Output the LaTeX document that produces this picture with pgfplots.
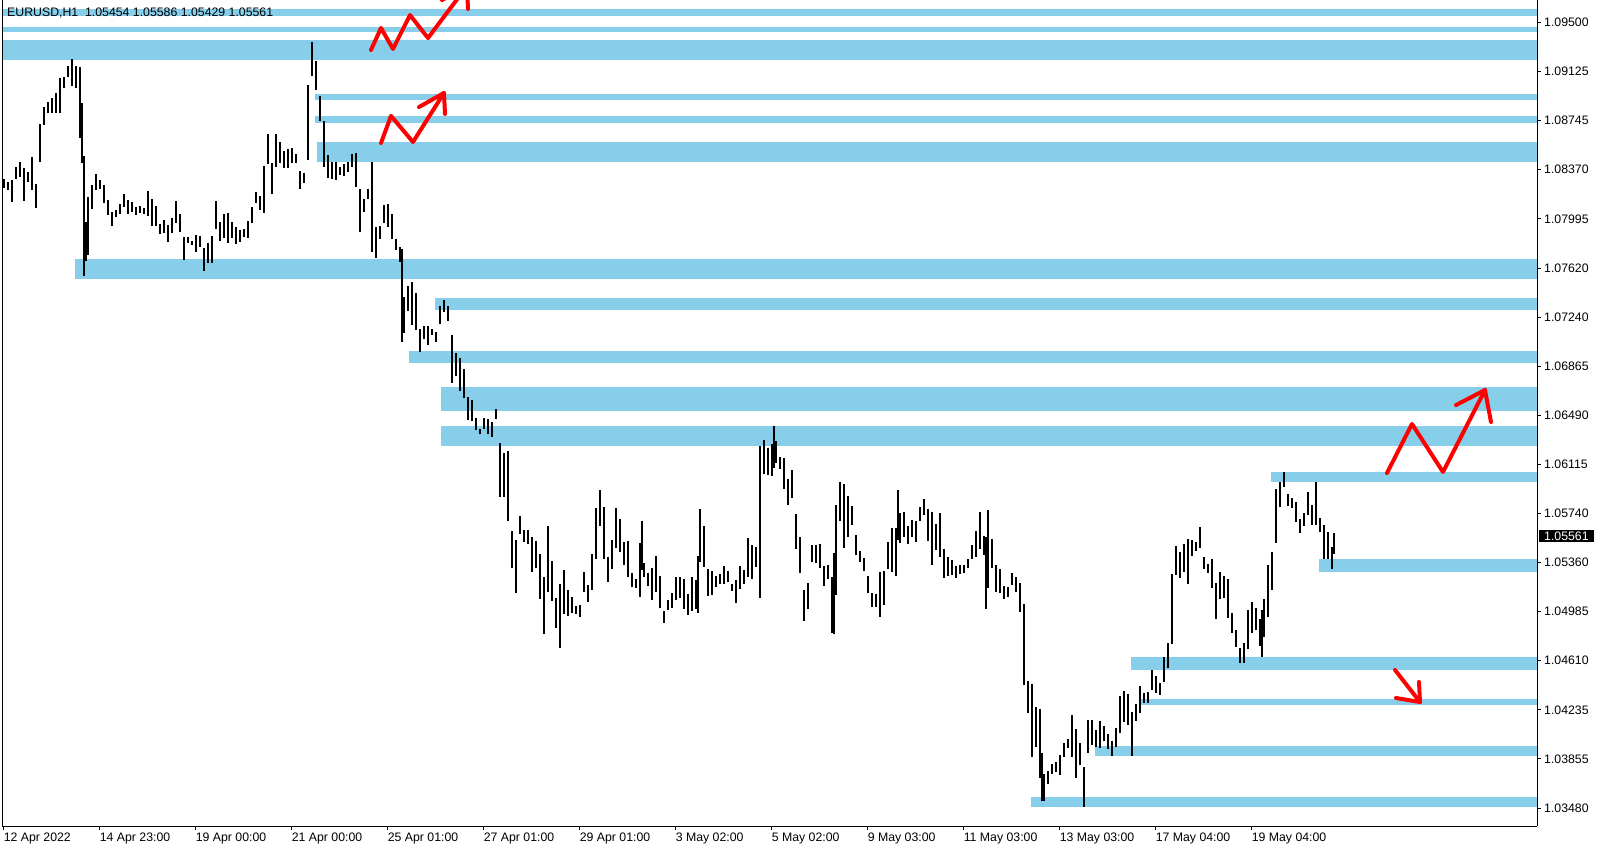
\documentclass[border=0pt]{standalone}
\usepackage{fontspec}
\setmainfont{Liberation Sans}
\usepackage{pgfplots}
\usepackage{pgfplotstable}
\pgfplotsset{compat=1.18}
\definecolor{zone}{RGB}{135,206,235}
\definecolor{arrowred}{RGB}{255,0,0}
\newcommand\tf{\fontsize{12.3}{14}\selectfont}

\pgfplotstableread{
h lo hi
0 1.08231 1.08301
2 1.08216 1.08278
4 1.08125 1.08293
6 1.08301 1.08393
8 1.08316 1.08431
10 1.08132 1.08385
12 1.08278 1.08355
14 1.08216 1.08469
16 1.08078 1.08262
18 1.08431 1.08722
20 1.08714 1.08852
22 1.08806 1.08891
24 1.08806 1.08921
26 1.08806 1.08960
28 1.08806 1.09075
30 1.08998 1.09082
32 1.09082 1.09167
34 1.09013 1.09220
36 1.08998 1.09167
38 1.08615 1.09159
39 1.08423 1.08883
40 1.07557 1.08477
41 1.07672 1.07971
42 1.07718 1.08163
44 1.08071 1.08255
46 1.08216 1.08339
48 1.08224 1.08293
50 1.08117 1.08255
52 1.08025 1.08140
54 1.07940 1.08048
56 1.08010 1.08063
58 1.08033 1.08109
60 1.08086 1.08186
62 1.08033 1.08140
64 1.08048 1.08125
66 1.08025 1.08086
68 1.08040 1.08094
70 1.08033 1.08079
72 1.08017 1.08209
74 1.07940 1.08147
76 1.07940 1.08094
78 1.07879 1.07955
80 1.07887 1.07986
82 1.07818 1.07948
84 1.07887 1.08002
86 1.07963 1.08132
88 1.07894 1.08033
90 1.07680 1.07856
92 1.07810 1.07856
94 1.07795 1.07825
96 1.07741 1.07871
98 1.07779 1.07864
100 1.07595 1.07771
102 1.07657 1.07810
104 1.07657 1.07864
106 1.07917 1.08132
108 1.07825 1.07971
110 1.07848 1.08033
112 1.07810 1.08040
114 1.07848 1.07971
116 1.07802 1.07933
118 1.07818 1.07910
120 1.07856 1.07917
122 1.07848 1.07979
124 1.07963 1.08086
126 1.08117 1.08201
128 1.08063 1.08170
130 1.08040 1.08400
132 1.08416 1.08645
134 1.08186 1.08423
136 1.08393 1.08645
138 1.08423 1.08584
140 1.08385 1.08515
142 1.08385 1.08531
144 1.08423 1.08538
146 1.08423 1.08492
148 1.08224 1.08362
150 1.08270 1.08347
152 1.08446 1.09021
154 1.09090 1.09350
156 1.08983 1.09205
158 1.08745 1.08937
160 1.08393 1.08745
162 1.08308 1.08485
164 1.08301 1.08431
166 1.08293 1.08431
168 1.08332 1.08393
170 1.08324 1.08416
172 1.08355 1.08431
174 1.08393 1.08492
176 1.08239 1.08500
178 1.07894 1.08224
180 1.08048 1.08147
182 1.08147 1.08224
184 1.07741 1.08431
186 1.07695 1.07933
188 1.07840 1.07940
190 1.07963 1.08102
192 1.07933 1.08109
194 1.07840 1.08033
196 1.07756 1.07840
198 1.07664 1.07779
199 1.07051 1.07764
200 1.07120 1.07396
202 1.07289 1.07481
204 1.07182 1.07511
206 1.07143 1.07427
208 1.06975 1.07151
210 1.07074 1.07174
212 1.07028 1.07174
214 1.07105 1.07151
216 1.07051 1.07128
218 1.07189 1.07327
220 1.07281 1.07373
222 1.07212 1.07327
224 1.06737 1.07105
226 1.06791 1.06967
228 1.06676 1.06929
230 1.06622 1.06845
232 1.06454 1.06630
234 1.06446 1.06607
236 1.06377 1.06469
238 1.06346 1.06385
240 1.06385 1.06469
242 1.06346 1.06461
244 1.06323 1.06438
246 1.06461 1.06538
248 1.05863 1.06277
250 1.05863 1.06201
252 1.05679 1.06216
254 1.05319 1.05603
256 1.05128 1.05534
258 1.05580 1.05718
260 1.05518 1.05610
262 1.05503 1.05610
264 1.05289 1.05557
266 1.05319 1.05526
268 1.05082 1.05427
270 1.04813 1.05250
272 1.05136 1.05641
274 1.05067 1.05373
276 1.04860 1.05089
278 1.04706 1.05197
280 1.04967 1.05304
282 1.04952 1.05151
284 1.04974 1.05097
286 1.04967 1.05028
288 1.04944 1.05036
290 1.05136 1.05289
292 1.05059 1.05189
294 1.05151 1.05427
296 1.05388 1.05779
298 1.05641 1.05917
300 1.05388 1.05787
302 1.05212 1.05404
304 1.05311 1.05534
306 1.05472 1.05779
308 1.05442 1.05695
310 1.05342 1.05518
312 1.05250 1.05526
314 1.05174 1.05281
316 1.05166 1.05235
318 1.05097 1.05511
319 1.05304 1.05679
320 1.05250 1.05358
322 1.05181 1.05281
324 1.05074 1.05319
326 1.05136 1.05411
328 1.05013 1.05258
330 1.04898 1.04990
332 1.04997 1.05074
334 1.05013 1.05128
336 1.05074 1.05250
338 1.05089 1.05250
340 1.05005 1.05235
342 1.04960 1.05120
344 1.04990 1.05250
346 1.05005 1.05227
347 1.04974 1.05411
348 1.05365 1.05772
350 1.05327 1.05641
352 1.05105 1.05311
354 1.05113 1.05296
356 1.05174 1.05258
358 1.05197 1.05273
360 1.05197 1.05334
362 1.05212 1.05296
364 1.05143 1.05197
366 1.05051 1.05227
368 1.05159 1.05334
370 1.05197 1.05304
372 1.05250 1.05549
374 1.05235 1.05495
376 1.05327 1.05480
378 1.05089 1.06254
380 1.06040 1.06300
382 1.06032 1.06239
384 1.06025 1.06270
385 1.06086 1.06407
386 1.06124 1.06293
388 1.06078 1.06170
390 1.05925 1.06163
392 1.05802 1.06002
394 1.05856 1.06070
396 1.05465 1.05733
398 1.05281 1.05557
400 1.04913 1.05151
402 1.05005 1.05204
404 1.05365 1.05495
406 1.05358 1.05495
408 1.05319 1.05503
410 1.05181 1.05334
412 1.05235 1.05342
414 1.04821 1.05250
415 1.04813 1.05434
416 1.05113 1.05802
418 1.05679 1.05978
420 1.05472 1.05963
422 1.05557 1.05871
424 1.05649 1.05794
426 1.05419 1.05572
428 1.05365 1.05449
430 1.05296 1.05396
432 1.05128 1.05258
434 1.05021 1.05128
436 1.05021 1.05120
438 1.04944 1.05289
440 1.05036 1.05296
442 1.05311 1.05518
444 1.05289 1.05626
446 1.05258 1.05626
447 1.05534 1.05917
448 1.05511 1.05741
450 1.05557 1.05748
452 1.05503 1.05641
454 1.05557 1.05687
456 1.05518 1.05679
458 1.05679 1.05787
460 1.05725 1.05848
462 1.05526 1.05772
464 1.05342 1.05748
466 1.05457 1.05656
468 1.05404 1.05741
470 1.05243 1.05465
472 1.05258 1.05404
474 1.05266 1.05381
476 1.05243 1.05334
478 1.05273 1.05342
480 1.05281 1.05342
482 1.05319 1.05388
484 1.05388 1.05495
486 1.05404 1.05603
488 1.05465 1.05748
490 1.05419 1.05564
491 1.05005 1.05557
492 1.05166 1.05764
494 1.05319 1.05541
496 1.05136 1.05342
498 1.05128 1.05311
500 1.05082 1.05181
502 1.05097 1.05174
504 1.05189 1.05281
506 1.05136 1.05250
508 1.04982 1.05204
510 1.04423 1.05043
512 1.04208 1.04453
514 1.03871 1.04430
516 1.03947 1.04254
518 1.03710 1.04239
519 1.03534 1.03902
520 1.03534 1.03741
522 1.03664 1.03764
524 1.03741 1.03817
526 1.03756 1.03832
528 1.03733 1.03886
530 1.03871 1.03978
532 1.03940 1.04009
534 1.03871 1.04193
536 1.03710 1.04085
538 1.03810 1.03978
540 1.03488 1.03794
542 1.03902 1.04154
544 1.03963 1.04154
546 1.03947 1.04078
548 1.03940 1.04147
550 1.03993 1.04108
552 1.03932 1.04047
554 1.03879 1.03993
556 1.03947 1.04093
558 1.04055 1.04338
560 1.04139 1.04377
562 1.04116 1.04354
564 1.03879 1.04216
566 1.04147 1.04277
568 1.04208 1.04415
570 1.04285 1.04361
572 1.04285 1.04369
574 1.04384 1.04538
576 1.04361 1.04492
578 1.04346 1.04438
580 1.04446 1.04637
582 1.04553 1.04745
584 1.04737 1.05273
586 1.05266 1.05488
588 1.05243 1.05442
590 1.05289 1.05503
592 1.05197 1.05541
594 1.05411 1.05534
596 1.05449 1.05518
598 1.05472 1.05633
600 1.05311 1.05404
602 1.05281 1.05350
604 1.05166 1.05388
606 1.04928 1.05204
608 1.05082 1.05289
610 1.05089 1.05258
612 1.04936 1.05235
614 1.04821 1.04974
616 1.04714 1.04844
618 1.04591 1.04706
620 1.04591 1.04744
622 1.04698 1.04997
624 1.04821 1.05059
626 1.04844 1.05013
628 1.04721 1.04928
629 1.04637 1.04997
630 1.04790 1.05082
632 1.04944 1.05342
634 1.05151 1.05442
636 1.05511 1.05925
638 1.05787 1.05978
640 1.05940 1.06055
642 1.05794 1.05887
644 1.05779 1.05856
646 1.05672 1.05825
648 1.05587 1.05695
650 1.05641 1.05741
652 1.05725 1.05902
654 1.05649 1.05802
656 1.05649 1.05978
658 1.05595 1.05702
660 1.05389 1.05649
662 1.05389 1.05595
664 1.05311 1.05480
665 1.05429 1.05586
}\bars

\begin{document}
\begin{tikzpicture}
\useasboundingbox (0,0) rectangle (1601pt,850pt);
\begin{axis}[
  at={(2pt,24pt)}, anchor=south west,
  width=1535pt, height=826pt, scale only axis,
  xmin=-0.8, xmax=766.7, ymin=1.03342, ymax=1.096724,
  axis x line*=bottom, axis y line*=right,
  axis line style={-, black, line width=0.9pt},
  tick align=outside, major tick length=4pt,
  tick style={black, line width=0.9pt},
  minor tick num=0,
  clip mode=individual,
  xtick={0,48,96,144,192,240,288,336,384,432,480,528,576,624},
  xticklabels={12 Apr 2022, 14 Apr 23:00, 19 Apr 00:00, 21 Apr 00:00, 25 Apr 01:00, 27 Apr 01:00, 29 Apr 01:00, 3 May 02:00, 5 May 02:00, 9 May 03:00, 11 May 03:00, 13 May 03:00, 17 May 04:00, 19 May 04:00},
  xticklabel style={anchor=north west, inner sep=0pt, yshift=-3pt, font=\tf},
  ytick={1.0348,1.0385625,1.042325,1.0460875,1.04985,1.0536125,1.057375,1.0611375,1.0649,1.0686625,1.072425,1.0761875,1.07995,1.0837125,1.087475,1.0912375,1.095},
  yticklabels={1.03480,1.03855,1.04235,1.04610,1.04985,1.05360,1.05740,1.06115,1.06490,1.06865,1.07240,1.07620,1.07995,1.08370,1.08745,1.09125,1.09500},
  yticklabel style={anchor=west, inner sep=0pt, xshift=3pt, font=\tf},
]
% zones
\addplot[fill=zone, draw=none, forget plot] coordinates {(-0.8,1.09604) (766.7,1.09604) (766.7,1.09550) (-0.8,1.09550)} --cycle;
\addplot[fill=zone, draw=none, forget plot] coordinates {(-0.8,1.09466) (766.7,1.09466) (766.7,1.09427) (-0.8,1.09427)} --cycle;
\addplot[fill=zone, draw=none, forget plot] coordinates {(-0.8,1.09366) (766.7,1.09366) (766.7,1.09213) (-0.8,1.09213)} --cycle;
\addplot[fill=zone, draw=none, forget plot] coordinates {(155.7,1.08952) (766.7,1.08952) (766.7,1.08906) (155.7,1.08906)} --cycle;
\addplot[fill=zone, draw=none, forget plot] coordinates {(155.7,1.08783) (766.7,1.08783) (766.7,1.08732) (155.7,1.08732)} --cycle;
\addplot[fill=zone, draw=none, forget plot] coordinates {(156.7,1.08584) (766.7,1.08584) (766.7,1.08431) (156.7,1.08431)} --cycle;
\addplot[fill=zone, draw=none, forget plot] coordinates {(35.7,1.07688) (766.7,1.07688) (766.7,1.07534) (35.7,1.07534)} --cycle;
\addplot[fill=zone, draw=none, forget plot] coordinates {(215.7,1.07389) (766.7,1.07389) (766.7,1.07297) (215.7,1.07297)} --cycle;
\addplot[fill=zone, draw=none, forget plot] coordinates {(202.7,1.06982) (766.7,1.06982) (766.7,1.06890) (202.7,1.06890)} --cycle;
\addplot[fill=zone, draw=none, forget plot] coordinates {(218.7,1.06707) (766.7,1.06707) (766.7,1.06523) (218.7,1.06523)} --cycle;
\addplot[fill=zone, draw=none, forget plot] coordinates {(218.7,1.06408) (766.7,1.06408) (766.7,1.06254) (218.7,1.06254)} --cycle;
\addplot[fill=zone, draw=none, forget plot] coordinates {(633.7,1.06055) (766.7,1.06055) (766.7,1.05978) (633.7,1.05978)} --cycle;
\addplot[fill=zone, draw=none, forget plot] coordinates {(657.7,1.05388) (766.7,1.05388) (766.7,1.05289) (657.7,1.05289)} --cycle;
\addplot[fill=zone, draw=none, forget plot] coordinates {(563.7,1.04637) (766.7,1.04637) (766.7,1.04538) (563.7,1.04538)} --cycle;
\addplot[fill=zone, draw=none, forget plot] coordinates {(568.7,1.04315) (766.7,1.04315) (766.7,1.04269) (568.7,1.04269)} --cycle;
\addplot[fill=zone, draw=none, forget plot] coordinates {(545.7,1.03955) (766.7,1.03955) (766.7,1.03879) (545.7,1.03879)} --cycle;
\addplot[fill=zone, draw=none, forget plot] coordinates {(513.7,1.03564) (766.7,1.03564) (766.7,1.03488) (513.7,1.03488)} --cycle;
% price bars
\addplot[draw=none, mark=none, forget plot,
  error bars/.cd, y dir=plus, y explicit, error mark=none,
  error bar style={draw=black, line width=1.9pt}]
  table[x=h, y=lo, y error expr=\thisrow{hi}-\thisrow{lo}] {\bars};
% red arrows
\addplot[arrowred, line width=4pt, line cap=round, line join=round, forget plot] coordinates {(183.7,1.09289) (188.7,1.09458) (194.7,1.09297) (203.2,1.09557) (212.2,1.09381) (231.7,1.09779)};
\addplot[arrowred, line width=4pt, line cap=round, line join=round, forget plot] coordinates {(219.2,1.09672) (231.7,1.09779) (232.2,1.09603)};
\addplot[arrowred, line width=4pt, line cap=round, line join=round, forget plot] coordinates {(188.7,1.08576) (193.7,1.08784) (204.7,1.08584) (220.2,1.08960)};
\addplot[arrowred, line width=4pt, line cap=round, line join=round, forget plot] coordinates {(207.7,1.08852) (220.2,1.08960) (220.7,1.08799)};
\addplot[arrowred, line width=4pt, line cap=round, line join=round, forget plot] coordinates {(691.7,1.06047) (704.2,1.06423) (719.7,1.06055) (740.7,1.06683)};
\addplot[arrowred, line width=4pt, line cap=round, line join=round, forget plot] coordinates {(726.2,1.06568) (740.7,1.06683) (743.7,1.06438)};
\addplot[arrowred, line width=4pt, line cap=round, line join=round, forget plot] coordinates {(695.7,1.04538) (708.2,1.04292)};
\addplot[arrowred, line width=4pt, line cap=round, line join=round, forget plot] coordinates {(707.7,1.04446) (708.2,1.04292) (696.2,1.04323)};
% frame left
\draw[black, line width=0.9pt] (rel axis cs:0,0) -- (rel axis cs:0,1);
% labels
\node[fill=black, text=white, anchor=west, inner xsep=5pt, inner ysep=0pt, minimum height=12pt, font=\tf] at ([xshift=2pt]axis cs:766.7,1.05561) {1.05561};
\node[anchor=base west, inner sep=0pt, font=\tf] at ([xshift=5pt,yshift=-16.7pt]rel axis cs:0,1) {EURUSD,H1\ \ 1.05454 1.05586 1.05429 1.05561};
\end{axis}
\end{tikzpicture}
\end{document}
